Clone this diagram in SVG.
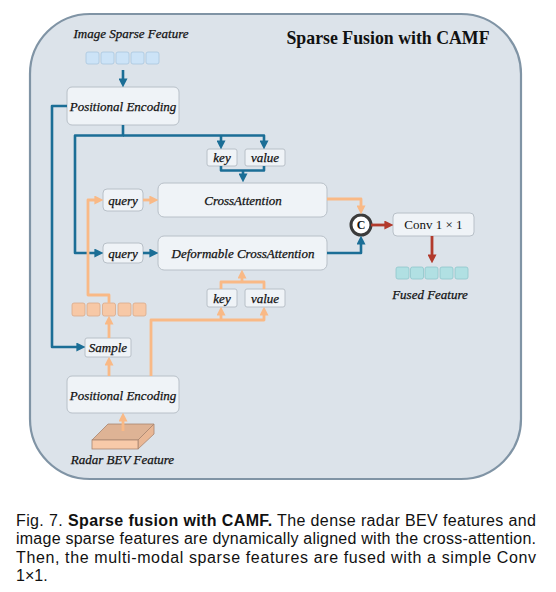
<svg xmlns="http://www.w3.org/2000/svg" width="556" height="592" viewBox="0 0 556 592">
<style>
.box{fill:#eff3f7;stroke:#b8c0c8;stroke-width:1}
.lbl{font-family:"Liberation Serif",serif;font-style:italic;font-size:13px;fill:#111;stroke:#111;stroke-width:0.25;text-anchor:middle;dominant-baseline:central}
.blue{fill:none;stroke:#1b6e96;stroke-width:2.6;stroke-linejoin:round}
.orange{fill:none;stroke:#f9b986;stroke-width:2.8;stroke-linejoin:round}
.red{fill:none;stroke:#b23a2c;stroke-width:2.8}
.isq{fill:#cce3f7;stroke:#a9c6de;stroke-width:0.8}
.rsq{fill:#f7c8a6;stroke:#d9a98a;stroke-width:0.8}
.fsq{fill:#b1e0e3;stroke:#8fc7cb;stroke-width:0.8}
.cap{font-family:"Liberation Sans",Arial,sans-serif;font-size:16px;fill:#111}
</style>
<defs>
<marker id="ab" viewBox="0 0 10 10" refX="4" refY="5" markerWidth="9" markerHeight="9" markerUnits="userSpaceOnUse" orient="auto"><path d="M0,0 L10,5 L0,10 z" fill="#1b6e96"/></marker>
<marker id="ao" viewBox="0 0 10 10" refX="4" refY="5" markerWidth="9" markerHeight="9" markerUnits="userSpaceOnUse" orient="auto"><path d="M0,0 L10,5 L0,10 z" fill="#f9b986"/></marker>
<marker id="ar" viewBox="0 0 10 10" refX="4" refY="5" markerWidth="9" markerHeight="9" markerUnits="userSpaceOnUse" orient="auto"><path d="M0,0 L10,5 L0,10 z" fill="#b23a2c"/></marker>
</defs>
<rect x="30" y="14" width="491" height="465" rx="60" fill="#dce3ea" stroke="#8094a5" stroke-width="2.2"/>
<text x="388" y="44" font-family="Liberation Serif,serif" font-weight="bold" font-size="17.8" text-anchor="middle" fill="#111">Sparse Fusion with CAMF</text>

<g id="image-sparse-feature">
<text x="131" y="33" class="lbl">Image Sparse Feature</text>
<rect class="isq" x="86" y="52" width="13" height="12" rx="2"/>
<rect class="isq" x="101" y="52" width="13" height="12" rx="2"/>
<rect class="isq" x="116" y="52" width="13" height="12" rx="2"/>
<rect class="isq" x="131" y="52" width="13" height="12" rx="2"/>
<rect class="isq" x="146" y="52" width="13" height="12" rx="2"/>
</g>
<g id="pe-image"><rect class="box" x="67" y="87" width="112" height="38" rx="5"/><text class="lbl" x="123" y="106">Positional Encoding</text></g>
<g id="key1"><rect class="box" x="207" y="149" width="30" height="17" rx="2"/><text class="lbl" x="222" y="157.5">key</text></g>
<g id="value1"><rect class="box" x="245" y="149" width="40" height="17" rx="2"/><text class="lbl" x="265" y="157.5">value</text></g>
<g id="query1"><rect class="box" x="103" y="189" width="40" height="22" rx="4"/><text class="lbl" x="123" y="200">query</text></g>
<g id="cross-attention"><rect class="box" x="158" y="183" width="169" height="34" rx="6"/><text class="lbl" x="243" y="200">CrossAttention</text></g>
<g id="query2"><rect class="box" x="103" y="243" width="40" height="20" rx="4"/><text class="lbl" x="123" y="253">query</text></g>
<g id="deformable-cross-attention"><rect class="box" x="158" y="236" width="169" height="34" rx="6"/><text class="lbl" x="243" y="253">Deformable CrossAttention</text></g>
<g id="key2"><rect class="box" x="207" y="289" width="30" height="18" rx="2"/><text class="lbl" x="222" y="298">key</text></g>
<g id="value2"><rect class="box" x="245" y="289" width="40" height="18" rx="2"/><text class="lbl" x="265" y="298">value</text></g>
<g id="radar-sparse-feature">
<rect class="rsq" x="72" y="303" width="13" height="13" rx="2"/>
<rect class="rsq" x="87" y="303" width="13" height="13" rx="2"/>
<rect class="rsq" x="102.5" y="303" width="13" height="13" rx="2"/>
<rect class="rsq" x="118" y="303" width="13" height="13" rx="2"/>
<rect class="rsq" x="133" y="303" width="13" height="13" rx="2"/>
</g>
<g id="sample"><rect class="box" x="85" y="338" width="46" height="19" rx="2"/><text class="lbl" x="108" y="347.5">Sample</text></g>
<g id="pe-radar"><rect class="box" x="67" y="376" width="112" height="37" rx="5"/><text class="lbl" x="123" y="395">Positional Encoding</text></g>
<g id="radar-bev-feature">
<polygon points="92,440 108,424 154,424 138,440" fill="#deb395" stroke="#a88570" stroke-width="0.8"/>
<polygon points="138,440 154,424 154,434 138,449" fill="#e9b795" stroke="#a88570" stroke-width="0.8"/>
<rect x="92" y="440" width="46" height="9" fill="#f8caa9" stroke="#a88570" stroke-width="0.8"/>
<text class="lbl" x="122.5" y="459">Radar BEV Feature</text>
</g>
<g id="concat"><circle cx="361" cy="225" r="10" fill="#fff" stroke="#3b3b3b" stroke-width="3"/><text x="361" y="225" font-family="Liberation Serif,serif" font-weight="bold" font-size="12" text-anchor="middle" dominant-baseline="central" fill="#111">C</text></g>
<g id="conv"><rect class="box" x="393" y="213" width="81" height="23" rx="4"/><text x="433.5" y="224.5" font-family="Liberation Serif,serif" font-size="13" text-anchor="middle" dominant-baseline="central" fill="#111">Conv 1 × 1</text></g>
<g id="fused-feature">
<rect class="fsq" x="396" y="267" width="13" height="12" rx="2"/>
<rect class="fsq" x="410.5" y="267" width="13" height="12" rx="2"/>
<rect class="fsq" x="425" y="267" width="13" height="12" rx="2"/>
<rect class="fsq" x="440" y="267" width="13" height="12" rx="2"/>
<rect class="fsq" x="455" y="267" width="13" height="12" rx="2"/>
<text class="lbl" x="430" y="294">Fused Feature</text>
</g>

<g id="connectors">
<path class="blue" d="M123,70 V82" marker-end="url(#ab)"/>
<path class="blue" d="M67,106 H52 V347 H80" marker-end="url(#ab)"/>
<path class="blue" d="M123,125 V135.5 H75 V253 H98" marker-end="url(#ab)"/>
<path class="blue" d="M123,135.5 H264 V144" marker-end="url(#ab)"/>
<path class="blue" d="M221,135.5 V144" marker-end="url(#ab)"/>
<path class="blue" d="M221,166 V170.5 H264 V166"/>
<path class="blue" d="M243,170.5 V177" marker-end="url(#ab)"/>
<path class="blue" d="M143,253 H153" marker-end="url(#ab)"/>
<path class="blue" d="M327,253 H361 V241" marker-end="url(#ab)"/>
<path class="orange" d="M109,303 V295 H88 V200 H98" marker-end="url(#ao)"/>
<path class="orange" d="M143,200 H153" marker-end="url(#ao)"/>
<path class="orange" d="M109,338 V321" marker-end="url(#ao)"/>
<path class="orange" d="M109,376 V362" marker-end="url(#ao)"/>
<path class="orange" d="M123,431 V418" marker-end="url(#ao)"/>
<path class="orange" d="M151,376 V320 H264 V312" marker-end="url(#ao)"/>
<path class="orange" d="M221,320 V312" marker-end="url(#ao)"/>
<path class="orange" d="M221,289 V282 H264 V289"/>
<path class="orange" d="M242,282 V275" marker-end="url(#ao)"/>
<path class="orange" d="M327,199 H361 V209" marker-end="url(#ao)"/>
<path class="red" d="M371,225 H388" marker-end="url(#ar)"/>
<path class="red" d="M432,236 V258" marker-end="url(#ar)"/>
</g>

<text class="cap" x="16" y="526" textLength="520" lengthAdjust="spacing">Fig. 7. <tspan font-weight="bold">Sparse fusion with CAMF.</tspan> The dense radar BEV features and</text>
<text class="cap" x="16" y="544.3" textLength="520" lengthAdjust="spacing">image sparse features are dynamically aligned with the cross-attention.</text>
<text class="cap" x="16" y="562.6" textLength="520" lengthAdjust="spacing">Then, the multi-modal sparse features are fused with a simple Conv</text>
<text class="cap" x="16" y="581">1×1.</text>
</svg>
